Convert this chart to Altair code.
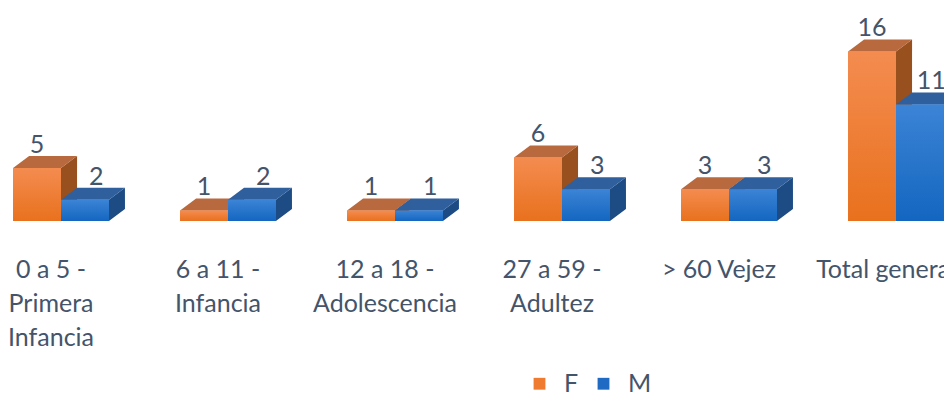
import altair as alt
import pandas as pd

# ---- data ----
categories = ["0 a 5 - Primera Infancia", "6 a 11 - Infancia", "12 a 18 - Adolescencia",
              "27 a 59 - Adultez", "> 60 Vejez", "Total general"]
category_lines = [["0 a 5 -", "Primera", "Infancia"], ["6 a 11 -", "Infancia"],
                  ["12 a 18 -", "Adolescencia"], ["27 a 59 -", "Adultez"],
                  ["> 60 Vejez"], ["Total general"]]
f_values = [5, 1, 1, 6, 3, 16]
m_values = [2, 2, 1, 3, 3, 11]
series = ["F", "M"]

# ---- styling / geometry ----
FONT = "Lato"
FS = 25
TXT = "#44546A"
BAR_W = 0.287      # bar width in category units
DX = 0.096         # 3D depth (x, category units)
DY = 1.13          # 3D depth (y, value units)
XDOM = [-0.3174, 5.2874]
YDOM = [-16.226, 20.094]
W, H = 936, 385

front_grad = {
    "F": alt.Gradient(gradient="linear", x1=0, x2=0, y1=0, y2=1,
                      stops=[alt.GradientStop(color="#F48C50", offset=0),
                             alt.GradientStop(color="#E8711D", offset=1)]),
    "M": alt.Gradient(gradient="linear", x1=0, x2=0, y1=0, y2=1,
                      stops=[alt.GradientStop(color="#3C84D6", offset=0),
                             alt.GradientStop(color="#1366C0", offset=1)]),
}
top_col = {"F": "#B8693E", "M": "#2F5F9D"}
side_col = {"F": "#98501F", "M": "#1D4B84"}
solid_col = {"F": "#EE7B30", "M": "#1F6BC4"}

vals = {"F": f_values, "M": m_values}

front_rows, top_rows, side_rows, lab_rows = [], [], [], []
for s in series:
    for i, cat in enumerate(categories):
        v = vals[s][i]
        x0 = i - BAR_W if s == "F" else i
        x1 = x0 + BAR_W
        fid = f"{s}-{i}"
        front_rows.append(dict(series=s, cat=cat, x0=x0, x1=x1, y0=0, y1=v))
        for px, py, py2 in [(x0, v, v), (x0 + DX, v, v + DY), (x1, v, v + DY), (x1 + DX, v + DY, v + DY)]:
            top_rows.append(dict(series=s, fid=fid, x=px, y=py, y2=py2))
        for px, py, py2 in [(x1, 0, v), (x1 + DX, DY, v + DY)]:
            side_rows.append(dict(series=s, fid=fid, x=px, y=py, y2=py2))
        lx = (x0 + x1) / 2 + (DX * 0.7 if s == "M" else 0)
        lab_rows.append(dict(series=s, x=lx, y=v + DY + 0.3, text=str(v)))

front = pd.DataFrame(front_rows)
top = pd.DataFrame(top_rows)
side = pd.DataFrame(side_rows)
labs = pd.DataFrame(lab_rows)
cats = pd.DataFrame({"x": list(range(len(categories))),
                     "text": ["\n".join(l) for l in category_lines],
                     "y": [-5.35] * len(categories)})

xs = alt.Scale(domain=XDOM, nice=False, zero=False)
ys = alt.Scale(domain=YDOM, nice=False, zero=False)


def X(f="x"):
    return alt.X(f"{f}:Q", scale=xs, axis=None)


def Y(f="y"):
    return alt.Y(f"{f}:Q", scale=ys, axis=None, stack=None)


# legend-providing base layer (fully covered by later faces)
base = alt.Chart(front).mark_rect(clip=True).encode(
    x=X("x0"), x2="x1", y=Y("y0"), y2="y1",
    color=alt.Color("series:N",
                    scale=alt.Scale(domain=series, range=[solid_col["F"], solid_col["M"]]),
                    legend=alt.Legend(orient="none", legendX=519, legendY=363, direction="horizontal",
                                      title=None, symbolType="square", symbolSize=140,
                                      symbolStrokeWidth=0, labelFont=FONT, labelFontSize=FS,
                                      labelColor=TXT, columnPadding=12, labelOffset=12, padding=0)),
)

layers = [base]
for s in series:
    layers.append(alt.Chart(side[side.series == s]).mark_area(clip=True, color=side_col[s]).encode(
        x=X(), y=Y(), y2="y2", detail="fid:N"))
    layers.append(alt.Chart(top[top.series == s]).mark_area(clip=True, color=top_col[s]).encode(
        x=X(), y=Y(), y2="y2", detail="fid:N"))
    layers.append(alt.Chart(front[front.series == s]).mark_rect(clip=True, fill=front_grad[s]).encode(
        x=X("x0"), x2="x1", y=Y("y0"), y2="y1"))

layers.append(alt.Chart(labs).mark_text(clip=True, font=FONT, fontSize=FS, color=TXT,
                                        baseline="alphabetic", align="center").encode(
    x=X(), y=Y(), text="text:N"))
layers.append(alt.Chart(cats).mark_text(clip=True, font=FONT, fontSize=FS, color=TXT,
                                        baseline="alphabetic", align="center", dx=-10,
                                        lineBreak="\n", lineHeight=34).encode(
    x=X(), y=Y(), text="text:N"))

chart = alt.layer(*layers).properties(
    width=W, height=H, autosize=alt.AutoSizeParams(type="none"),
    padding={"left": 0, "top": 0, "right": 0, "bottom": 0},
    background="white",
).configure_view(stroke=None)

chart.save("out.html", embed_options={"renderer": "svg", "actions": False})
